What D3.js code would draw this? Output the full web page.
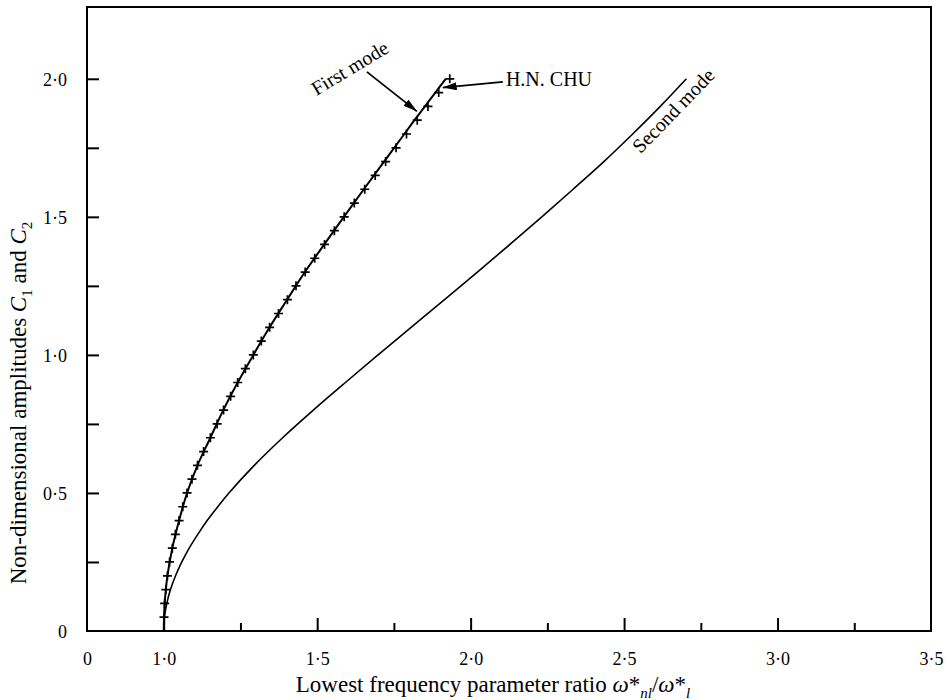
<!DOCTYPE html>
<html><head><meta charset="utf-8">
<script src="https://cdn.jsdelivr.net/npm/d3@7"></script>
<style>
body{margin:0;background:#fff}
text{font-family:"Liberation Serif","Times New Roman",serif;fill:#000}
</style>
</head><body>
<svg id="chart" width="951" height="700"></svg>
<script>
// ---- axis ticks ----
const xTickValues = [0.75, 1.0, 1.5, 2.0, 2.5, 3.0, 3.5];
const xTickLabels = ["0", "1·0", "1·5", "2·0", "2·5", "3·0", "3·5"];
const xMinorTicks = [1.25, 1.75, 2.25, 2.75, 3.25];
const yTickValues = [0, 0.5, 1.0, 1.5, 2.0];
const yTickLabels = ["0", "0·5", "1·0", "1·5", "2·0"];
const yMinorTicks = [0.25, 0.75, 1.25, 1.75];

// ---- first mode (solid line): amplitude C and frequency ratio ----
const firstModeC     = [0, 0.05, 0.1, 0.15, 0.2, 0.3, 0.4, 0.5, 0.6, 0.7, 0.8, 0.9, 1.0, 1.1, 1.2, 1.3, 1.4, 1.5, 1.6, 1.7, 1.8, 1.85, 1.9, 1.95, 2.0];
const firstModeRatio = [1.0, 1.001, 1.003, 1.007, 1.012, 1.028, 1.050, 1.076, 1.110, 1.152, 1.194, 1.241, 1.292, 1.345, 1.402, 1.460, 1.523, 1.587, 1.652, 1.718, 1.784, 1.817, 1.851, 1.885, 1.919];

// ---- H.N. CHU results (+ markers) ----
const chuC     = [0.05, 0.10, 0.15, 0.20, 0.25, 0.30, 0.35, 0.40, 0.45, 0.50, 0.55, 0.60, 0.65, 0.70, 0.75, 0.80, 0.85, 0.90, 0.95, 1.00, 1.05, 1.10, 1.15, 1.20, 1.25, 1.30, 1.35, 1.40, 1.45, 1.50, 1.55, 1.60, 1.65, 1.70, 1.75, 1.80, 1.85, 1.90, 1.95, 2.00];
const chuRatio = [1.001, 1.003, 1.007, 1.012, 1.019, 1.028, 1.038, 1.050, 1.062, 1.076, 1.092, 1.110, 1.130, 1.152, 1.174, 1.195, 1.218, 1.241, 1.266, 1.292, 1.318, 1.345, 1.374, 1.403, 1.431, 1.461, 1.492, 1.524, 1.556, 1.588, 1.621, 1.655, 1.689, 1.723, 1.757, 1.791, 1.826, 1.861, 1.896, 1.932];

// ---- second mode ----
const secondModeC     = [0, 0.05, 0.1, 0.15, 0.2, 0.25, 0.3, 0.35, 0.4, 0.45, 0.5, 0.6, 0.7, 0.8, 0.9, 1.0, 1.1, 1.2, 1.3, 1.4, 1.5, 1.6, 1.7, 1.8, 1.9, 2.0];
const secondModeRatio = [1.0, 1.0025, 1.010, 1.022, 1.0385, 1.059, 1.083, 1.111, 1.1415, 1.176, 1.2125, 1.295, 1.3875, 1.4875, 1.592, 1.6985, 1.806, 1.915, 2.022, 2.128, 2.232, 2.334, 2.434, 2.528, 2.618, 2.703];

// ---- annotations (data units) ----
const labelFirst  = {text: "First mode", r: 1.606, c: 2.040, angle: -31};
const arrowFirst  = {r1: 1.662, c1: 2.025, r2: 1.825, c2: 1.882};
const labelChu    = {text: "H.N. CHU", r: 2.115, c: 1.975};
const arrowChu    = {r1: 2.105, c1: 1.989, r2: 1.909, c2: 1.968};
const labelSecond = {text: "Second mode", r: 2.660, c: 1.885, angle: -46};

const svg = d3.select("#chart");
svg.append("rect").attr("width", 951).attr("height", 700).attr("fill", "#fff");

const x = d3.scaleLinear().domain([0.75, 3.5]).range([87, 931]);
const y = d3.scaleLinear().domain([0, 2.26]).range([631, 7]);

// frame
svg.append("rect").attr("x", x(0.75)).attr("y", y(2.26))
  .attr("width", x(3.5) - x(0.75)).attr("height", y(0) - y(2.26))
  .attr("fill", "none").attr("stroke", "#000").attr("stroke-width", 2);

// x axis
const gx = svg.append("g").attr("transform", `translate(0,${y(0)})`)
  .call(d3.axisBottom(x).tickValues(xTickValues).tickSizeInner(-13).tickSizeOuter(0)
    .tickFormat((d, i) => xTickLabels[i]));
gx.select(".domain").remove();
gx.selectAll(".tick line").attr("stroke-width", 2).filter(d => d === 0.75 || d === 3.5).remove();
gx.selectAll(".tick text").attr("y", 34).attr("dy", null)
  .style("font-size", "18px").style("font-family", '"Liberation Serif",serif');

const gxm = svg.append("g").attr("transform", `translate(0,${y(0)})`)
  .call(d3.axisBottom(x).tickValues(xMinorTicks).tickSizeInner(-8).tickSizeOuter(0).tickFormat(""));
gxm.select(".domain").remove();
gxm.selectAll(".tick line").attr("stroke-width", 2);

// y axis
const gy = svg.append("g").attr("transform", `translate(${x(0.75)},0)`)
  .call(d3.axisLeft(y).tickValues(yTickValues).tickSizeInner(-12).tickSizeOuter(0)
    .tickFormat((d, i) => yTickLabels[i]));
gy.select(".domain").remove();
gy.selectAll(".tick line").attr("stroke-width", 2).filter(d => d === 0).remove();
gy.selectAll(".tick text").attr("x", -20).attr("dy", "0.35em")
  .style("font-size", "18px").style("font-family", '"Liberation Serif",serif');

const gym = svg.append("g").attr("transform", `translate(${x(0.75)},0)`)
  .call(d3.axisLeft(y).tickValues(yMinorTicks).tickSizeInner(-12).tickSizeOuter(0).tickFormat(""));
gym.select(".domain").remove();
gym.selectAll(".tick line").attr("stroke-width", 2);

// curves
const line = d3.line().x(d => x(d.r)).y(d => y(d.c)).curve(d3.curveCatmullRom.alpha(0.5));
const first = firstModeC.map((c, i) => ({c, r: firstModeRatio[i]}));
const second = secondModeC.map((c, i) => ({c, r: secondModeRatio[i]}));
const chu = chuC.map((c, i) => ({c, r: chuRatio[i]}));

svg.append("path").datum(first).attr("d", line)
  .attr("fill", "none").attr("stroke", "#000").attr("stroke-width", 2);
svg.append("path").datum(second).attr("d", line)
  .attr("fill", "none").attr("stroke", "#000").attr("stroke-width", 1.6);

svg.append("g").selectAll("path").data(chu).join("path")
  .attr("transform", d => `translate(${x(d.r)},${y(d.c)})`)
  .attr("d", "M-4.5,0H4.5M0,-4.5V4.5")
  .attr("stroke", "#000").attr("stroke-width", 1.7).attr("fill", "none");

// arrowheads
const defs = svg.append("defs");
defs.append("marker").attr("id", "ah").attr("viewBox", "0 0 14 8")
  .attr("refX", 14).attr("refY", 4).attr("markerWidth", 14).attr("markerHeight", 8)
  .attr("markerUnits", "userSpaceOnUse").attr("orient", "auto")
  .append("path").attr("d", "M0,0L14,4L0,8Z").attr("fill", "#000");

[arrowFirst, arrowChu].forEach(a => {
  svg.append("line").attr("x1", x(a.r1)).attr("y1", y(a.c1))
    .attr("x2", x(a.r2)).attr("y2", y(a.c2))
    .attr("stroke", "#000").attr("stroke-width", 1.8).attr("marker-end", "url(#ah)");
});

// labels
svg.append("text").attr("transform", `translate(${x(labelFirst.r)},${y(labelFirst.c)}) rotate(${labelFirst.angle})`)
  .attr("text-anchor", "middle").attr("dominant-baseline", "central")
  .style("font-size", "20px").text(labelFirst.text);
svg.append("text").attr("x", x(labelChu.r)).attr("y", y(labelChu.c))
  .style("font-size", "20px").text(labelChu.text);
svg.append("text").attr("transform", `translate(${x(labelSecond.r)},${y(labelSecond.c)}) rotate(${labelSecond.angle})`)
  .attr("text-anchor", "middle").attr("dominant-baseline", "central")
  .style("font-size", "20px").text(labelSecond.text);

// x axis title
const xt = svg.append("text").attr("x", 493).attr("y", 692).attr("text-anchor", "middle").style("font-size", "23px");
xt.append("tspan").text("Lowest frequency parameter ratio ");
xt.append("tspan").style("font-style", "italic").text("ω");
xt.append("tspan").text("*");
xt.append("tspan").style("font-style", "italic").style("font-size", "15px").attr("dy", 6).text("nl");
xt.append("tspan").attr("dy", -6).text("/");
xt.append("tspan").style("font-style", "italic").text("ω");
xt.append("tspan").text("*");
xt.append("tspan").style("font-style", "italic").style("font-size", "15px").attr("dy", 6).text("l");

// y axis title
const yt = svg.append("text").attr("transform", `translate(26,403) rotate(-90)`)
  .attr("text-anchor", "middle").style("font-size", "23px");
yt.append("tspan").text("Non-dimensional amplitudes ");
yt.append("tspan").style("font-style", "italic").text("C");
yt.append("tspan").style("font-size", "15px").attr("dy", 6).text("1");
yt.append("tspan").attr("dy", -6).text(" and ");
yt.append("tspan").style("font-style", "italic").text("C");
yt.append("tspan").style("font-size", "15px").attr("dy", 6).text("2");
</script>
</body></html>
